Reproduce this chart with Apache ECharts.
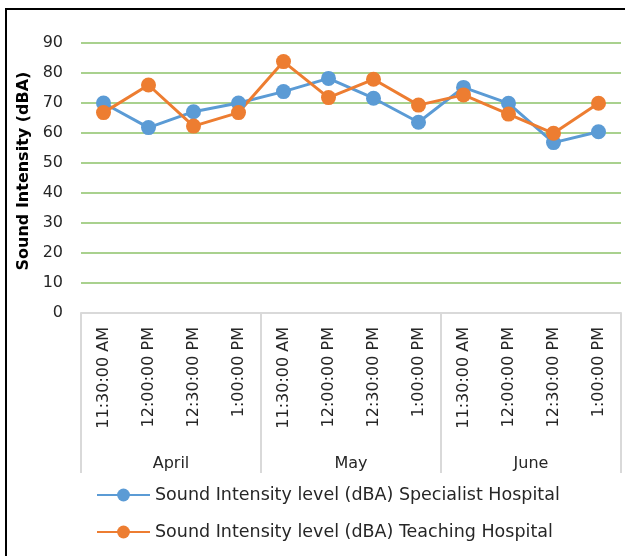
<!DOCTYPE html>
<html>
<head>
<meta charset="utf-8">
<script src="https://cdn.jsdelivr.net/npm/echarts@6/dist/echarts.min.js"></script>
<style>
    html, body { margin: 0; padding: 0; background: #fff; }
    #myChart { width: 625px; height: 556px; }
</style>
</head>
<body>
<div id="myChart"></div>
<script>
    /////////////////////////

    var timeLabels = ['11:30:00 AM', '12:00:00 PM', '12:30:00 PM', '1:00:00 PM',
                      '11:30:00 AM', '12:00:00 PM', '12:30:00 PM', '1:00:00 PM',
                      '11:30:00 AM', '12:00:00 PM', '12:30:00 PM', '1:00:00 PM'];
    var months = ['April', 'May', 'June'];
    var specialist = [70, 61.8, 67.1, 70, 73.8, 78.2, 71.6, 63.6, 75.2, 69.9, 56.8, 60.4];
    var teaching = [66.8, 76, 62.3, 66.8, 83.8, 71.8, 77.9, 69.3, 72.7, 66.3, 59.9, 69.9];
    var yTicks = [0, 10, 20, 30, 40, 50, 60, 70, 80, 90];

    var fontName = 'DejaVu Sans';

    /////////////////////////

    var myChart = echarts.init(document.getElementById('myChart'));

    function makeSeries(name, values, color) {
        return {
            name: name,
            type: 'line',
            xAxisIndex: 0,
            data: values,
            symbol: 'circle',
            symbolSize: 15,
            lineStyle: { color: color, width: 3 },
            itemStyle: { color: color },
            z: 5,
            animation: false
        };
    }

    var option = {
        textStyle: { fontFamily: fontName },
        graphic: [{
            type: 'rect',
            shape: { x: 6, y: 9, width: 800, height: 800 },
            style: { fill: 'none', stroke: '#000', lineWidth: 2 },
            silent: true
        }],
        grid: { left: 81, right: 4, top: 43, bottom: 243, containLabel: false },
        legend: {
            orient: 'vertical',
            left: 91,
            top: 481,
            itemWidth: 53,
            itemHeight: 16,
            itemGap: 19,
            textStyle: { fontSize: 17.5, color: '#262626', fontFamily: fontName },
            data: ['Sound Intensity level (dBA) Specialist Hospital',
                   'Sound Intensity level (dBA) Teaching Hospital']
        },
        xAxis: [{
            type: 'category',
            data: timeLabels,
            boundaryGap: true,
            z: 3,
            axisLine: { show: true, lineStyle: { color: '#D9D9D9', width: 2 } },
            axisTick: { show: false },
            axisLabel: { rotate: 90, interval: 0, margin: 14, fontSize: 16, color: '#262626' }
        }, {
            type: 'category',
            data: months,
            position: 'bottom',
            boundaryGap: true,
            axisLine: { show: false },
            axisTick: { show: true, inside: false, length: 160, interval: 0,
                        lineStyle: { color: '#D9D9D9', width: 2 } },
            axisLabel: { interval: 0, margin: 143, fontSize: 16, color: '#262626' }
        }],
        yAxis: {
            type: 'value',
            min: yTicks[0],
            max: yTicks[yTicks.length - 1],
            interval: 10,
            name: 'Sound Intensity (dBA)',
            nameLocation: 'middle',
            nameGap: 44,
            nameTextStyle: { fontSize: 16, fontWeight: 'bold', color: '#000', padding: [0, 0, 0, 14] },
            axisLine: { show: false },
            axisTick: { show: false },
            axisLabel: { fontSize: 16, color: '#262626', margin: 18 },
            splitLine: { lineStyle: { color: '#A9D18E', width: 2 } }
        },
        series: [
            makeSeries('Sound Intensity level (dBA) Specialist Hospital', specialist, '#5B9BD5'),
            makeSeries('Sound Intensity level (dBA) Teaching Hospital', teaching, '#ED7D31')
        ]
    };

    myChart.setOption(option);
</script>
</body>
</html>
